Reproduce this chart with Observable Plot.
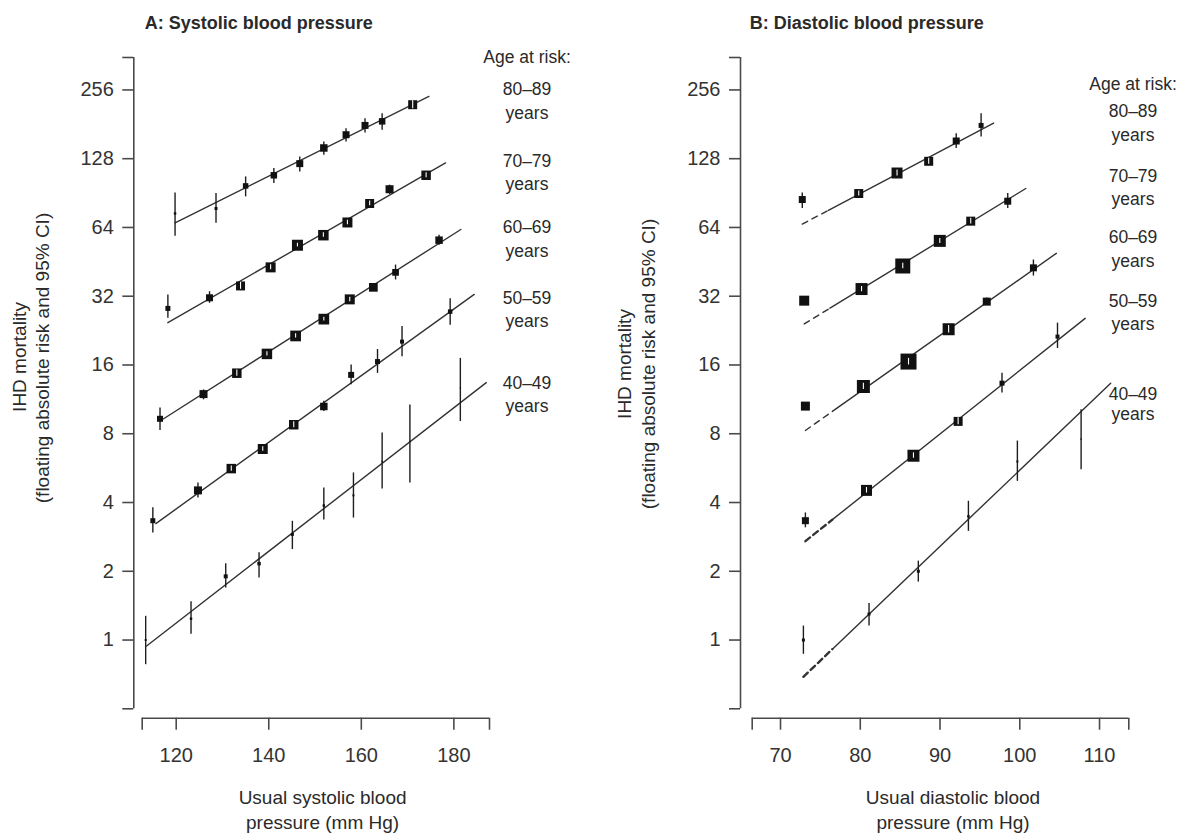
<!DOCTYPE html>
<html><head><meta charset="utf-8">
<script src="https://cdn.jsdelivr.net/npm/d3@7"></script>
<script src="https://cdn.jsdelivr.net/npm/@observablehq/plot@0.6"></script>
<style>
body{margin:0;background:#fff;font-family:"Liberation Sans",Arial,sans-serif;color:#2a2a2a}
#wrap{position:relative;width:1178px;height:833px;overflow:hidden;background:#fff}
.lbl{position:absolute;white-space:nowrap;transform:translate(-50%,-50%);line-height:1}
.rot{position:absolute;white-space:nowrap;transform:translate(-50%,-50%) rotate(-90deg);line-height:1;font-size:19px}
.ttl{position:absolute;white-space:nowrap;font-weight:bold;font-size:18px;transform:translateY(-50%)}
.age{font-size:17.5px}
.xt{font-size:19px}
.panel{position:absolute;top:0}
</style></head><body><div id="wrap"></div>
<script>
const ageLabels = ["80–89", "70–79", "60–69", "50–59", "40–49"];
const yTickLabels = [1, 2, 4, 8, 16, 32, 64, 128, 256];
const yDomain = [0.5, 355];

// Panel A: [usual SBP, risk, lower CI, upper CI, relative information]
const sbp80 = [[119.75,73.7,58.6,90.6,6],[128.6,77.5,66.8,90.2,9],[135.0,97.3,87.1,106.5,30],[141.1,108.3,99.7,115.9,42],[146.7,121.8,112,130.2,49],[151.9,142.6,132.4,151.4,56],[156.7,163,151.4,173.3,49],[160.8,179,165.8,191.6,49],[164.5,186.5,170.3,201.6,42],[171.1,220.6,211.9,230.4,81]];
const sbp70 = [[118.2,28.3,25.6,32.4,25],[127.2,31.5,29.8,33.5,49],[133.9,35.5,34.3,36.8,81],[140.4,42.8,41.8,43.9,100],[146.2,53.5,52.6,54.6,121],[151.8,59.2,58.0,60.6,110],[157.0,67.3,65.8,68.9,100],[161.8,81.5,79.6,83.5,81],[166.1,94.1,89.2,98.0,64],[174.0,108.3,105.5,111.2,90]];
const sbp60 = [[116.5,9.3,8.27,10.36,36],[125.9,11.93,11.26,12.45,64],[133.1,14.73,14.3,15.2,90],[139.6,17.89,17.5,18.3,110],[145.8,21.44,21.0,21.9,115],[151.9,25.4,24.9,25.9,115],[157.5,31.0,30.3,31.7,100],[162.6,35.0,33.9,36.1,76],[167.4,40.7,37.7,43.8,45],[176.8,56.3,53.5,59.2,56]];
const sbp50 = [[114.95,3.33,2.94,3.79,25],[124.7,4.52,4.19,4.87,64],[131.9,5.63,5.48,5.78,90],[138.7,6.86,6.7,7.02,100],[145.4,8.76,8.5,9.02,90],[151.9,10.53,10.0,11.1,56],[157.8,14.48,13.1,16.0,36],[163.5,16.56,14.7,18.7,25],[168.8,20.25,17.4,23.6,16],[179.2,27.4,23.9,31.2,20]];
const sbp40 = [[113.4,1.0,0.78,1.27,4],[123.2,1.24,1.06,1.47,6],[130.7,1.90,1.69,2.16,16],[137.9,2.16,1.87,2.41,12],[145.1,2.90,2.49,3.31,9],[151.9,3.88,3.35,4.63,6],[158.3,4.30,3.42,5.39,4],[164.5,6.05,4.58,8.07,2],[170.5,7.40,4.87,10.69,1.5],[181.4,12.67,9.05,17.1,1.5]];
// fitted lines: [x start, risk start, x end, risk end]
const sbpFits = [[119.75,67,174.6,239.8],[118.2,24.5,178.2,122.6],[116.6,9.12,181.5,62.7],[115.6,3.235,184.4,32.6],[113.6,0.941,187,13.4]];
const sbpDomain = [112.65, 187.7];
const sbpTicks = [120, 140, 160, 180];

// Panel B: [usual DBP, risk, lower CI, upper CI, relative information]
const dbp80 = [[72.73,84.8,77.5,90.6,49],[79.81,90.1,87.8,92.4,81],[84.61,110.8,107.5,114.2,121],[88.58,124.7,121,128.5,81],[92.03,153,141.7,164.8,49],[95.15,179,159.2,201.5,25]];
const dbp70 = [[72.97,30.6,29.5,31.8,100],[80.16,34.4,33.5,35.3,144],[85.33,43.4,42.2,44.6,225],[89.97,55.9,54.5,57.3,144],[93.85,68.2,66.2,70.2,81],[98.49,83.4,77.5,90.1,49]];
const dbp60 = [[73.12,10.57,10.2,10.95,81],[80.39,12.88,12.5,13.3,169],[86.05,16.56,16.0,17.1,256],[91.08,22.94,22.1,23.8,144],[95.86,30.3,29.2,31.4,64],[101.71,42.6,39.2,46.1,49]];
const dbp50 = [[73.12,3.33,3.10,3.60,49],[80.78,4.52,4.40,4.65,121],[86.67,6.41,6.25,6.60,144],[92.27,9.06,8.75,9.4,81],[97.77,13.32,12.05,14.73,25],[104.73,21.3,18.9,24.4,16]];
const dbp40 = [[72.87,1.0,0.866,1.151,9],[81.1,1.30,1.151,1.447,9],[87.28,2.0,1.793,2.215,9],[93.56,3.48,2.99,4.05,6],[99.70,6.05,4.95,7.43,4],[107.69,7.58,5.57,10.2,2]];
// fitted lines: [x start (extrapolated), risk start, x where solid begins, x end, risk end]
const dbpFits = [[72.73,66.2,76.0,96.72,183.3],[72.97,24.2,76.2,100.75,94.8],[73.12,8.27,76.5,104.58,49.3],[73.12,2.71,76.5,108.2,25.6],[72.87,0.69,76.5,111.4,13.3]];
const dbpDomain = [66.45, 113.67];
const dbpTicks = [70, 80, 90, 100, 110];

const wrap = document.getElementById("wrap");
const INK = "#1e1e1e", AX = "#4a4a4a";

function logInterp(x1, y1, x2, y2, x) {
  const t = (x - x1) / (x2 - x1);
  return Math.exp(Math.log(y1) + t * (Math.log(y2) - Math.log(y1)));
}

function panel({series, solidLines, dashedLines, xDomain, xTickLabels, width, marginLeft, marginRight, yOff, left}) {
  const all = series.flat();
  const inner = series.flatMap(s => s.slice(1)).filter(d => d[4] >= 81);
  const marks = [
    Plot.ruleY([yDomain[0]], {x1: xDomain[0], x2: xDomain[1], dy: 9.4, stroke: AX, strokeWidth: 1.6}),
    Plot.ruleX([xDomain[0]], {y1: yDomain[0], y2: yDomain[1], dx: yOff, stroke: AX, strokeWidth: 1.6}),
    Plot.axisX([xDomain[0], ...xTickLabels, xDomain[1]], {
      tickSize: 12, tickPadding: 18, dy: 9.4, stroke: AX, strokeWidth: 1.6, label: null,
      tickFormat: d => xTickLabels.includes(d) ? String(d) : "", fontSize: 20, fill: "#333"
    }),
    Plot.axisY([yDomain[0], ...yTickLabels, yDomain[1]], {
      tickSize: 11, tickPadding: 9, dx: yOff, stroke: AX, strokeWidth: 1.6, label: null,
      tickFormat: d => yTickLabels.includes(d) ? String(d) : "", fontSize: 20, fill: "#333"
    })
  ];
  for (const l of solidLines) marks.push(Plot.line(l.pts, {x: d => d[0], y: d => d[1], stroke: "#333", strokeWidth: 1.4}));
  for (const l of dashedLines) marks.push(Plot.line(l.pts, {x: d => d[0], y: d => d[1], stroke: "#333", strokeWidth: l.w, strokeDasharray: l.dash}));
  marks.push(
    Plot.ruleX(all, {x: d => d[0], y1: d => d[2], y2: d => d[3], stroke: INK, strokeWidth: 1.4}),
    Plot.dot(all, {x: d => d[0], y: d => d[1], r: d => d[4], symbol: "square", fill: "#111", stroke: "none"}),
    Plot.ruleX(inner, {x: d => d[0], y1: d => d[2], y2: d => d[3], stroke: "#fff", strokeWidth: 1.1})
  );
  const svg = Plot.plot({
    width, height: 833, marginTop: 57, marginBottom: 833 - 708.3, marginLeft, marginRight,
    x: {domain: xDomain},
    y: {type: "log", base: 2, domain: yDomain},
    r: {type: "sqrt", domain: [0, 256], range: [0, 16 / Math.sqrt(Math.PI)]},
    style: {fontFamily: "Liberation Sans, Arial, sans-serif", fontSize: "20px", color: "#333", background: "transparent", overflow: "visible"},
    marks
  });
  const div = document.createElement("div");
  div.className = "panel";
  div.style.left = left + "px";
  div.appendChild(svg);
  wrap.appendChild(div);
}

// Panel A
panel({
  series: [sbp80, sbp70, sbp60, sbp50, sbp40],
  solidLines: sbpFits.map(f => ({pts: [[f[0], f[1]], [f[2], f[3]]]})),
  dashedLines: [],
  xDomain: sbpDomain, xTickLabels: sbpTicks,
  width: 590, marginLeft: 141.7, marginRight: 590 - 489, yOff: -8.4, left: 0
});

// Panel B
panel({
  series: [dbp80, dbp70, dbp60, dbp50, dbp40],
  solidLines: dbpFits.map(f => ({pts: [[f[2], logInterp(f[0], f[1], f[3], f[4], f[2])], [f[3], f[4]]]})),
  dashedLines: dbpFits.map((f, i) => ({
    pts: [[f[0], f[1]], [f[2], logInterp(f[0], f[1], f[3], f[4], f[2])]],
    w: i >= 3 ? 2.4 : 1.4, dash: i >= 3 ? "6,4" : "6,5"
  })),
  xDomain: dbpDomain, xTickLabels: dbpTicks,
  width: 578, marginLeft: 151.7, marginRight: 1178 - 1128.3, yOff: -11.7, left: 600
});

function addText(cls, text, x, y) {
  const d = document.createElement("div");
  d.className = cls;
  d.textContent = text;
  d.style.left = x + "px";
  d.style.top = y + "px";
  wrap.appendChild(d);
  return d;
}

// titles
addText("ttl", "A: Systolic blood pressure", 144.7, 22.7);
addText("ttl", "B: Diastolic blood pressure", 749.7, 22.7);

// y-axis titles
addText("rot", "IHD mortality", 19, 357);
addText("rot", "(floating absolute risk and 95% CI)", 42, 357.5);
addText("rot", "IHD mortality", 624, 364);
addText("rot", "(floating absolute risk and 95% CI)", 648, 364);

// x-axis titles
addText("lbl xt", "Usual systolic blood", 322.6, 796.7);
addText("lbl xt", "pressure (mm Hg)", 322.6, 821.7);
addText("lbl xt", "Usual diastolic blood", 953, 796.7);
addText("lbl xt", "pressure (mm Hg)", 953, 821.7);

// age labels
const ageYA = [[90, 114], [162, 185], [228, 251.7], [299, 322], [384, 407]];
const ageYB = [[111.7, 136], [176.7, 200], [237.7, 261.7], [301.7, 325], [395, 415]];
addText("lbl age", "Age at risk:", 527, 58.3);
addText("lbl age", "Age at risk:", 1133, 85);
ageLabels.forEach((a, i) => {
  addText("lbl age", a, 527, ageYA[i][0]);
  addText("lbl age", "years", 527, ageYA[i][1]);
  addText("lbl age", a, 1133, ageYB[i][0]);
  addText("lbl age", "years", 1133, ageYB[i][1]);
});
</script>
</body></html>
